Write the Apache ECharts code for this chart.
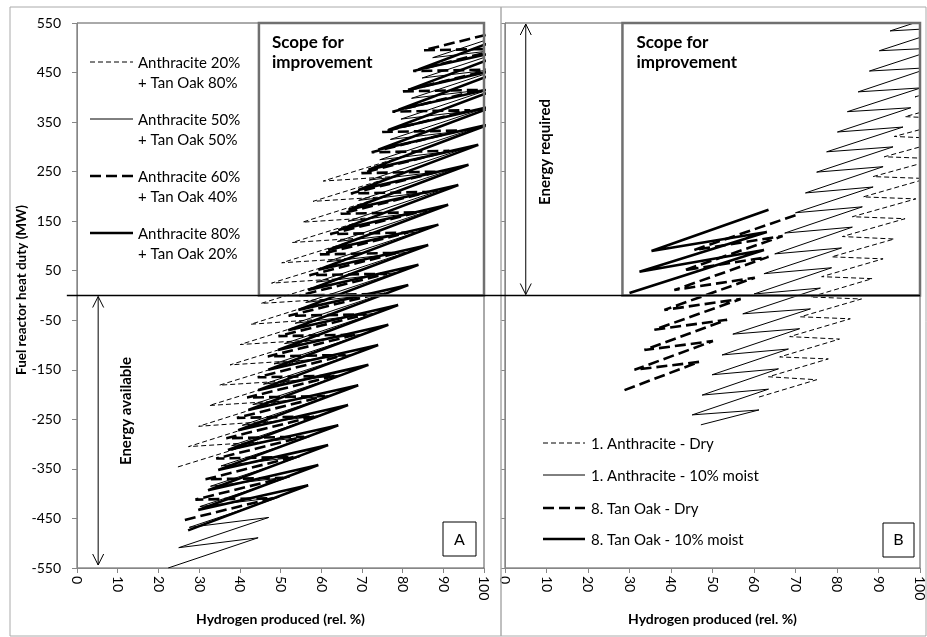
<!DOCTYPE html>
<html>
<head>
<meta charset="utf-8">
<script src="https://cdn.jsdelivr.net/npm/echarts@6/dist/echarts.min.js"></script>
<style>
  html, body { margin: 0; padding: 0; background: #fff; }
  #chart { width: 927px; height: 637px; }
</style>
</head>
<body>
<div id="chart"></div>
<script>
const FONT = 'Lato, "Liberation Sans", sans-serif'

// axis ranges
const xRange = [0, 100, 10]
const yRange = [-550, 550, 100]

// panel A: blends, points as [H2 %, MW], zig-zag order
const mixA2080 = [
  [24.8,-346],[44.5,-296],[27.4,-305],[47.1,-254],[29.9,-264],[49.6,-213],
  [32.5,-222],[52.2,-172],[35.0,-181],[54.7,-131],[37.6,-140],[57.3,-90],
  [40.1,-99],[59.8,-48],[42.7,-58],[62.4,-7],[45.2,-16],[64.9,34],
  [47.8,25],[67.5,75],[50.3,66],[70.0,116],[52.9,107],[72.6,157],
  [55.4,148],[75.1,199],[58.0,190],[77.7,240],[60.5,231],[80.2,281]
]
const mixA5050 = [
  [22.4,-550],[44.5,-489],[25.0,-509],[47.1,-448],[27.6,-468],[49.7,-407],
  [30.2,-426],[52.3,-366],[32.8,-385],[54.9,-325],[35.4,-344],[57.5,-284],
  [38.0,-303],[60.1,-242],[40.6,-262],[62.7,-201],[43.2,-220],[65.3,-160],
  [45.8,-179],[67.9,-119],[48.4,-138],[70.5,-78],[51.0,-97],[73.1,-36],
  [53.6,-56],[75.7,5],[56.2,-14],[78.3,46],[58.8,27],[80.9,87],
  [61.4,68],[83.5,128],[64.0,109],[86.1,170],[66.6,150],[88.7,211],
  [69.2,192],[91.3,252],[71.8,233],[93.9,293],[74.4,274],[96.5,334],
  [77.0,315],[99.1,375],[79.6,356],[101.7,417],[82.2,398],[104.3,458],
  [84.8,439],[106.9,499],[87.4,480],[109.5,540]
]
const mixA6040 = [
  [26.5,-453],[48.1,-409],[29.1,-412],[50.7,-368],[31.6,-371],[53.2,-326],
  [34.2,-329],[55.8,-285],[36.7,-288],[58.3,-244],[39.3,-247],[60.9,-203],
  [41.8,-206],[63.4,-162],[44.4,-165],[66.0,-120],[46.9,-123],[68.5,-79],
  [49.5,-82],[71.1,-38],[52.0,-41],[73.6,3],[54.6,0],[76.2,44],
  [57.1,41],[78.7,86],[59.7,83],[81.3,127],[62.2,124],[83.8,168],
  [64.8,165],[86.4,209],[67.3,206],[88.9,250],[69.9,247],[91.5,292],
  [72.4,289],[94.0,333],[75.0,330],[96.6,374],[77.5,371],[99.1,415],
  [80.1,412],[101.7,456],[82.6,453],[104.2,498],[85.2,495],[106.8,539]
]
const mixA8020 = [
  [27.3,-474],[56.8,-383],[29.8,-433],[59.3,-342],[32.2,-393],[61.7,-302],
  [34.7,-352],[64.2,-262],[37.1,-312],[66.6,-221],[39.6,-272],[69.1,-181],
  [42.1,-231],[71.6,-140],[44.5,-191],[74.0,-100],[47.0,-150],[76.5,-59],
  [49.4,-110],[78.9,-19],[51.9,-70],[81.4,21],[54.4,-29],[83.9,62],
  [56.8,11],[86.3,102],[59.3,52],[88.8,143],[61.7,92],[91.2,183],
  [64.2,132],[93.7,223],[66.7,173],[96.2,264],[69.1,213],[98.6,304],
  [71.6,254],[101.1,345],[74.0,294],[103.5,385],[76.5,334],[106.0,425],
  [79.0,375],[108.5,466],[81.4,415],[110.9,506],[83.9,456],[113.4,547]
]

// panel B: single fuels
const anthDryB = [
  [61.2,-205],[75.1,-170],[63.5,-164],[77.9,-128],[66.2,-124],[80.6,-88],
  [68.6,-83],[83.2,-47],[71.2,-43],[85.9,-7],[73.6,-3],[88.5,34],
  [76.3,38],[91.1,74],[78.7,78],[93.8,114],[81.3,119],[96.4,155],
  [83.7,159],[99.0,195],[86.3,199],[101.7,236],[88.7,240],[104.3,276],
  [91.4,280],[107.0,316],[93.8,321],[109.6,356],[96.4,361],[112.2,397],
  [98.8,401],[114.9,437]
]
const anthMoistB = [
  [47.2,-261],[61.2,-231],[45.1,-241],[63.5,-189],[47.5,-201],[65.9,-148],
  [49.9,-160],[68.3,-108],[52.3,-120],[71.0,-67],[54.9,-78],[73.6,-27],
  [57.3,-37],[76.0,15],[60.0,3],[78.7,56],[62.4,44],[81.1,96],
  [65.0,84],[83.7,138],[67.4,126],[86.1,179],[70.0,167],[88.7,219],
  [72.4,207],[91.1,260],[75.1,249],[93.5,300],[77.5,290],[95.9,340],
  [80.1,330],[97.8,379],[82.5,371],[100.2,419],[85.1,411],[102.6,460],
  [87.8,453],[105.0,500],[90.2,494],[107.4,541],[92.8,534],[109.8,581]
]
const oakDryB = [
  [28.8,-191],[46.8,-134],[31.2,-150],[50.1,-92],[33.6,-110],[53.5,-49],
  [36.0,-69],[56.8,-7],[38.4,-29],[60.2,36],[40.8,11],[63.5,78],
  [43.2,51],[66.9,120],[45.6,92],[70.3,163]
]
const oakMoistB = [
  [30.0,5],[62.4,92],[32.4,48],[63.1,128],[35.3,90],[63.5,173]
]

const legendA = [
  ['Anthracite 20%', '+ Tan Oak 80%'],
  ['Anthracite 50%', '+ Tan Oak 50%'],
  ['Anthracite 60%', '+ Tan Oak 40%'],
  ['Anthracite 80%', '+ Tan Oak 20%']
]
const legendB = ['1. Anthracite - Dry', '1. Anthracite - 10% moist', '8. Tan Oak - Dry', '8. Tan Oak - 10% moist']

// line looks: thin dashed, thin solid, thick dashed, thick solid
const looks = [
  { width: 1, dash: [5, 3] },
  { width: 1, dash: null },
  { width: 2.6, dash: [11, 5] },
  { width: 2.6, dash: null }
]

function lineSeries(name, data, grid, look) {
  return {
    name, type: 'line', xAxisIndex: grid, yAxisIndex: grid, data,
    symbol: 'none', silent: true, clip: true, z: 3,
    lineStyle: { color: '#000', width: look.width, type: look.dash || 'solid' }
  }
}

function xAxisFor(grid) {
  return {
    gridIndex: grid, type: 'value', min: xRange[0], max: xRange[1], interval: xRange[2],
    name: 'Hydrogen produced (rel. %)', nameLocation: 'middle', nameGap: 44,
    nameTextStyle: { fontFamily: FONT, fontWeight: 'bold', fontSize: 14, color: '#000' },
    axisLine: { onZero: false, lineStyle: { color: '#868686' } },
    axisTick: { length: 5, lineStyle: { color: '#868686' } },
    axisLabel: { rotate: -90, margin: 8, fontFamily: FONT, fontSize: 14, color: '#000' },
    splitLine: { show: false }
  }
}

function yAxisFor(grid) {
  return {
    gridIndex: grid, type: 'value', min: yRange[0], max: yRange[1], interval: yRange[2],
    axisLine: { onZero: false, lineStyle: { color: '#868686' } },
    axisTick: { length: grid === 0 ? 5 : 4, lineStyle: { color: '#868686' } },
    axisLabel: { show: grid === 0, margin: 16, fontFamily: FONT, fontSize: 14, color: '#000' },
    splitLine: { show: false }
  }
}

const chart = echarts.init(document.getElementById('chart'))

chart.setOption({
  animation: false,
  backgroundColor: '#fff',
  grid: [
    { left: 77, top: 23, width: 407, height: 545, show: true, borderColor: '#555', borderWidth: 1 },
    { left: 505, top: 23, width: 417, height: 545, show: true, borderColor: '#555', borderWidth: 1 }
  ],
  xAxis: [xAxisFor(0), xAxisFor(1)],
  yAxis: [yAxisFor(0), yAxisFor(1)],
  series: [
    lineSeries(legendA[0].join(' '), mixA2080, 0, looks[0]),
    lineSeries(legendA[1].join(' '), mixA5050, 0, looks[1]),
    lineSeries(legendA[2].join(' '), mixA6040, 0, looks[2]),
    lineSeries(legendA[3].join(' '), mixA8020, 0, looks[3]),
    lineSeries(legendB[0], anthDryB, 1, looks[0]),
    lineSeries(legendB[1], anthMoistB, 1, looks[1]),
    lineSeries(legendB[2], oakDryB, 1, looks[2]),
    lineSeries(legendB[3], oakMoistB, 1, looks[3])
  ]
})

/* annotations placed from axis coordinates */
const pa = (x, y) => chart.convertToPixel({ gridIndex: 0 }, [x, y])
const pb = (x, y) => chart.convertToPixel({ gridIndex: 1 }, [x, y])

function txt(text, x, y, size, bold) {
  return {
    type: 'text', x, y, z: 20,
    style: {
      text, fill: '#000', font: (bold ? 'bold ' : '') + size + 'px ' + FONT,
      textAlign: 'left', textVerticalAlign: 'middle'
    }
  }
}

function centred(text, x, y, size, bold, rotation) {
  return {
    type: 'text', x, y, z: 20, rotation: rotation || 0,
    style: {
      text, fill: '#000', font: (bold ? 'bold ' : '') + size + 'px ' + FONT,
      textAlign: 'center', textVerticalAlign: 'middle'
    }
  }
}

function arrow(x, yTop, yBot) {
  const st = { stroke: '#000', fill: 'none', lineWidth: 1 }
  return [
    { type: 'line', z: 15, shape: { x1: x, y1: yTop, x2: x, y2: yBot }, style: st },
    { type: 'polyline', z: 15, shape: { points: [[x - 5.5, yTop + 11], [x, yTop], [x + 5.5, yTop + 11]] }, style: st },
    { type: 'polyline', z: 15, shape: { points: [[x - 5.5, yBot - 11], [x, yBot], [x + 5.5, yBot - 11]] }, style: st }
  ]
}

function box(p0, p1, stroke, w) {
  return {
    type: 'rect', z: 5,
    shape: { x: p0[0], y: p0[1], width: p1[0] - p0[0], height: p1[1] - p0[1] },
    style: { fill: 'none', stroke, lineWidth: w }
  }
}

function sample(x1, x2, y, look) {
  return {
    type: 'line', z: 15, shape: { x1, y1: y, x2, y2: y },
    style: { stroke: '#000', lineWidth: look.width, lineDash: look.dash || null }
  }
}

const g = []
// outer chart frames
g.push({ type: 'rect', z: 1, shape: { x: 10, y: 7, width: 491, height: 629 }, style: { fill: 'none', stroke: '#aaa', lineWidth: 1 } })
g.push({ type: 'rect', z: 1, shape: { x: 501, y: 7, width: 425, height: 629 }, style: { fill: 'none', stroke: '#aaa', lineWidth: 1 } })

// y-axis title
g.push(centred('Fuel reactor heat duty (MW)', 22, 290, 13.5, true, Math.PI / 2))

// scope boxes
g.push(box(pa(44.7, 550), pa(100, 0), '#707070', 2.5))
g.push(box(pb(28.3, 550), pb(100, 0), '#707070', 2.5))

// zero line across both panels
const z0 = pa(-2.5, 0), z1 = pb(100, 0)
g.push({ type: 'line', z: 16, shape: { x1: z0[0], y1: z0[1], x2: z1[0], y2: z1[1] }, style: { stroke: '#000', lineWidth: 1.3 } })

// energy arrows
const aT = pa(5.2, 0), aB = pa(5.2, -550)
g.push(...arrow(aT[0], aT[1] + 1, aB[1] - 3))
const bT = pb(5, 550), bB = pb(5, 0)
g.push(...arrow(bT[0], bT[1] + 1, bB[1] - 1))

g.push(centred('Energy available', aT[0] + 28, 411, 15, true, Math.PI / 2))
g.push(centred('Energy required', bT[0] + 19, 152, 15, true, Math.PI / 2))

// scope labels
const sA = pa(44.7, 550), sB = pb(28.3, 550)
g.push(txt('Scope for', sA[0] + 13, 43, 17, true))
g.push(txt('improvement', sA[0] + 13, 63, 17, true))
g.push(txt('Scope for', sB[0] + 14, 43, 17, true))
g.push(txt('improvement', sB[0] + 14, 63, 17, true))

// panel tags
g.push({ type: 'rect', z: 15, shape: { x: 443, y: 522, width: 33, height: 34 }, style: { fill: '#fff', stroke: '#000', lineWidth: 1 } })
g.push(centred('A', 459.5, 539.5, 16, false))
g.push({ type: 'rect', z: 15, shape: { x: 883, y: 523, width: 31, height: 34 }, style: { fill: '#fff', stroke: '#000', lineWidth: 1 } })
g.push(centred('B', 898.5, 540, 16, false))

// legends
const legAY = [62, 119, 176, 233]
legendA.forEach((lines, i) => {
  g.push(sample(90, 133, legAY[i], looks[i]))
  g.push(txt(lines[0], 138, legAY[i] + 1, 15, false))
  g.push(txt(lines[1], 138, legAY[i] + 21, 15, false))
})
const legBY = [443, 475, 508, 539]
legendB.forEach((label, i) => {
  g.push(sample(543, 585, legBY[i], looks[i]))
  g.push(txt(label, 591, legBY[i] + 1, 15, false))
})

chart.setOption({ graphic: { elements: g } })
</script>
</body>
</html>
